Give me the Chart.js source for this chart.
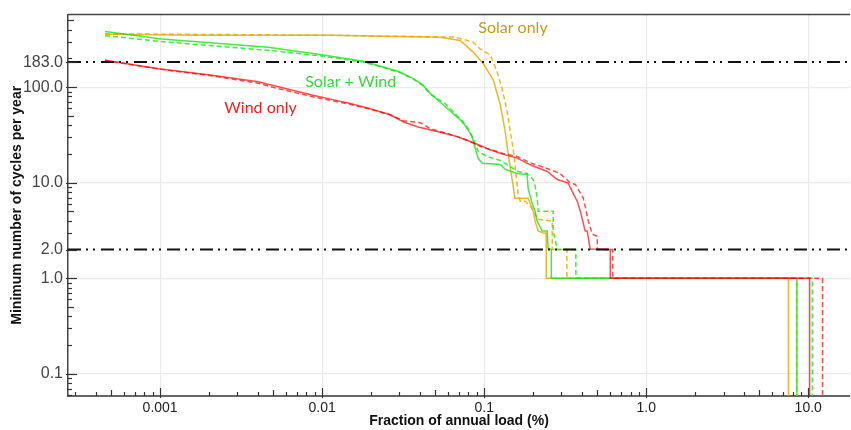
<!DOCTYPE html>
<html><head><meta charset="utf-8">
<script src="https://cdn.jsdelivr.net/npm/chart.js@4"></script>
<style>html,body{margin:0;padding:0;background:#fff}#wrap{width:851px;height:430px;position:relative}</style>
</head><body><div id="wrap"><canvas id="c"></canvas></div>
<script>
// ---- data ----
const solarSolidX = [0.000457, 0.00177, 0.0112, 0.0534, 0.0711, 0.0855, 0.0987, 0.1138, 0.1257, 0.1349, 0.1407, 0.147, 0.155, 0.187, 0.192, 0.2005, 0.2063, 0.2155, 0.231, 0.2415, 0.2415, 7.55, 7.55];
const solarSolidY = [359, 350, 350, 334, 308, 233, 176, 119, 65.5, 34.3, 19.8, 12.2, 6.88, 6.88, 6.1, 5.04, 3.96, 3.12, 2.97, 2.97, 1, 1, 0.05];
const solarDashX = [0.000457, 0.0112, 0.0662, 0.0855, 0.0944, 0.1089, 0.1203, 0.129, 0.1387, 0.1449, 0.151, 0.155, 0.162, 0.1668, 0.179, 0.2004, 0.2123, 0.263, 0.263, 0.324, 0.324, 8.51, 8.51];
const solarDashY = [362, 350, 334, 296, 252, 217, 144, 96, 55.3, 34.3, 22.8, 15.5, 7.57, 6.4, 6.4, 5.29, 4.16, 3.96, 2, 2, 1, 1, 0.05];
const hybridSolidX = [0.000457, 0.00102, 0.00464, 0.00996, 0.0179, 0.0238, 0.0303, 0.0365, 0.042, 0.0464, 0.0558, 0.0644, 0.0732, 0.0786, 0.0843, 0.088, 0.0919, 0.0973, 0.1257, 0.1349, 0.16, 0.184, 0.187, 0.1977, 0.2063, 0.2123, 0.228, 0.245, 0.248, 0.2596, 0.2596, 8.51, 8.51];
const hybridSolidY = [383, 320, 262, 218, 187, 163, 144, 123, 105, 85.8, 65.5, 52.8, 43.5, 36.9, 30.4, 22.8, 17.9, 16.0, 15.5, 13.8, 12.5, 12.2, 8.53, 6.1, 5.04, 3.96, 3.12, 3.12, 2.07, 2, 1, 1, 0.05];
const hybridDashX = [0.000457, 0.00102, 0.00464, 0.00996, 0.0179, 0.0238, 0.0303, 0.0365, 0.042, 0.0464, 0.0574, 0.0741, 0.0796, 0.0855, 0.0919, 0.1045, 0.1257, 0.162, 0.184, 0.2004, 0.2063, 0.2123, 0.2155, 0.2667, 0.2667, 0.2825, 0.368, 0.368, 10.6, 10.6];
const hybridDashY = [346, 300, 243, 212, 183, 161, 142, 122, 103, 85, 67.5, 43.5, 36.9, 29, 21.2, 18.8, 17.1, 13.1, 12.5, 10.8, 9.19, 6.88, 5.04, 5.04, 3.12, 2, 2, 1, 1, 0.05];
const windSolidX = [0.000457, 0.000976, 0.00198, 0.00403, 0.00513, 0.00906, 0.012, 0.0149, 0.0198, 0.0263, 0.0316, 0.0386, 0.0513, 0.0681, 0.082, 0.0944, 0.1089, 0.131, 0.16, 0.192, 0.245, 0.2825, 0.33, 0.349, 0.375, 0.392, 0.42, 0.432, 0.451, 0.6, 0.6, 10.2, 10.2];
const windSolidY = [191, 156, 135, 114, 103, 81.2, 73.2, 67.5, 59.4, 51.5, 43.5, 38.6, 34.3, 30.4, 27, 24.5, 22.1, 19.8, 18.1, 15.4, 13.1, 10.8, 9.93, 8.12, 6.4, 5.04, 3.12, 3.12, 2.02, 2, 1, 1, 0.05];
const windDashX = [0.000457, 0.000976, 0.00198, 0.00403, 0.00513, 0.00906, 0.012, 0.0149, 0.0198, 0.0263, 0.0316, 0.0403, 0.0464, 0.0681, 0.082, 0.0944, 0.1089, 0.131, 0.16, 0.192, 0.245, 0.294, 0.34, 0.365, 0.392, 0.408, 0.42, 0.439, 0.464, 0.499, 0.499, 0.622, 0.622, 12.25, 12.25];
const windDashY = [191, 155, 133, 110, 98.3, 78.3, 71.2, 66.2, 58.7, 51.5, 44.6, 42.5, 36.9, 30.4, 27, 24, 22.3, 20.2, 18.8, 16.2, 14.1, 12.5, 9.93, 9.6, 7.82, 6.94, 5.68, 3.96, 2.9, 2.75, 2, 2, 1, 1, 0.05];

const refLevels = [183, 2];               // dash-dot threshold lines
const xRange = [0.00027, 18.1];
const yRange = [0.0586, 575];
const xTickVals = [0.001, 0.01, 0.1, 1, 10];
const xTickLabels = ['0.001', '0.01', '0.1', '1.0', '10.0'];
const yTickVals = [0.1, 1, 2, 10, 100, 183];
const yTickLabels = ['0.1', '1.0', '2.0', '10.0', '100.0', '183.0'];
const yGridVals = [0.1, 1, 10, 100];
const xGridVals = [0.001, 0.01, 0.1, 1, 10];

const annoText = ['Solar only', 'Solar + Wind', 'Wind only'];
const annoX = [0.0919, 0.00786, 0.00249];
const annoY = [367, 100.7, 53.1];
const annoColor = ['#c99a1a', '#2fdc3a', '#ff1a1a'];

// ---- helpers ----
const ORANGE = 'rgba(240,168,0,0.85)';
const GREEN = 'rgba(20,230,20,0.8)';
const RED = 'rgba(255,0,0,0.7)';
const pts = (xs, ys) => xs.map((v, i) => ({x: v, y: ys[i]}));
function minorTicks(lo, hi) {
  const out = [];
  for (let e = Math.floor(Math.log10(lo)) ; e <= Math.ceil(Math.log10(hi)); e++) {
    for (let s = 1; s <= 9; s++) {
      const v = +(s * Math.pow(10, e)).toPrecision(6);
      if (v >= lo && v <= hi) out.push(v);
    }
  }
  return out;
}
const near = (a, b) => Math.abs(a - b) / b < 1e-6;
function sigOf(v) { const e = Math.floor(Math.log10(v) + 1e-9); return Math.round(v / Math.pow(10, e)); }

const series = (label, xs, ys, color, dashed, order) => ({
  label, data: pts(xs, ys), borderColor: color, borderWidth: 1.5,
  borderDash: dashed ? [5, 3] : [], pointRadius: 0, fill: false, tension: 0, order
});
const refLine = (lvl) => ({
  label: 'ref ' + lvl, data: [{x: xRange[0], y: lvl}, {x: xRange[1], y: lvl}],
  borderColor: '#111', borderWidth: 2, borderDash: [13, 5, 2, 5, 2, 6], pointRadius: 0, order: 0
});

const decor = {
  id: 'decor',
  afterDatasetsDraw(chart) {
    const {ctx, chartArea: a, scales: {x, y}} = chart;
    ctx.save();
    ctx.strokeStyle = '#333'; ctx.lineWidth = 1.2;
    x.ticks.forEach(t => {
      const px = Math.round(x.getPixelForValue(t.value)) + 0.5;
      const s = sigOf(t.value);
      const len = s === 1 ? 8 : (s === 5 ? 6 : 4);
      ctx.beginPath(); ctx.moveTo(px, a.bottom + (s === 1 ? 2 : 0)); ctx.lineTo(px, a.bottom - len); ctx.stroke();
    });
    y.ticks.forEach(t => {
      const py = Math.round(y.getPixelForValue(t.value)) + 0.5;
      const labelled = yTickVals.some(v => near(t.value, v));
      const s = sigOf(t.value);
      const len = labelled ? 9 : (s === 5 ? 6 : 4);
      ctx.beginPath(); ctx.moveTo(a.left - (labelled ? 2 : 0), py); ctx.lineTo(a.left + len, py); ctx.stroke();
    });
    // top frame
    ctx.strokeStyle = '#444'; ctx.lineWidth = 1.5;
    ctx.beginPath(); ctx.moveTo(a.left, a.top); ctx.lineTo(a.right, a.top); ctx.stroke();
    // annotations
    ctx.font = '16px Lato, "Open Sans", sans-serif';
    ctx.textBaseline = 'alphabetic'; ctx.textAlign = 'left';
    annoText.forEach((t, i) => {
      ctx.fillStyle = annoColor[i];
      ctx.fillText(t, x.getPixelForValue(annoX[i]), y.getPixelForValue(annoY[i]));
    });
    ctx.restore();
  }
};

new Chart(document.getElementById('c'), {
  type: 'line',
  data: {
    datasets: [
      refLine(refLevels[0]), refLine(refLevels[1]),
      series('Wind only', windSolidX, windSolidY, RED, false, 1),
      series('Wind only (dashed)', windDashX, windDashY, RED, true, 1),
      series('Solar + Wind', hybridSolidX, hybridSolidY, GREEN, false, 2),
      series('Solar + Wind (dashed)', hybridDashX, hybridDashY, GREEN, true, 2),
      series('Solar only', solarSolidX, solarSolidY, ORANGE, false, 3),
      series('Solar only (dashed)', solarDashX, solarDashY, ORANGE, true, 3)
    ]
  },
  options: {
    responsive: true, maintainAspectRatio: false, animation: false, devicePixelRatio: 1,
    layout: {padding: {top: 12, right: 1, left: 0, bottom: 0}},
    plugins: {legend: {display: false}, tooltip: {enabled: false}},
    scales: {
      x: {
        type: 'logarithmic', min: xRange[0], max: xRange[1],
        afterBuildTicks: s => { s.ticks = minorTicks(xRange[0], xRange[1]).map(v => ({value: v})); },
        afterFit: s => { s.height = 34; },
        ticks: {
          autoSkip: false, maxRotation: 0, padding: 4, color: '#222',
          font: {family: '"Liberation Sans", Arial, sans-serif', size: 14},
          callback: v => { const i = xTickVals.findIndex(t => near(v, t)); return i >= 0 ? xTickLabels[i] : ''; }
        },
        grid: {
          drawTicks: false,
          color: c => (c.tick && xGridVals.some(t => near(c.tick.value, t))) ? '#ebebeb' : 'rgba(0,0,0,0)',
          lineWidth: 1.2
        },
        border: {color: '#666', width: 2},
        title: {display: true, text: 'Fraction of annual load (%)', color: '#111', padding: {top: 0, bottom: 0},
          font: {family: '"Liberation Sans", Arial, sans-serif', size: 14, weight: 'bold'}}
      },
      y: {
        type: 'logarithmic', min: yRange[0], max: yRange[1],
        afterBuildTicks: s => {
          const vals = minorTicks(yRange[0], yRange[1]);
          yTickVals.forEach(v => { if (!vals.some(w => near(w, v))) vals.push(v); });
          vals.sort((a, b) => a - b);
          s.ticks = vals.map(v => ({value: v}));
        },
        afterFit: s => { s.width = 68; },
        ticks: {
          autoSkip: false, padding: 5, color: '#444',
          font: {family: '"Liberation Sans", Arial, sans-serif', size: 16},
          callback: v => { const i = yTickVals.findIndex(t => near(v, t)); return i >= 0 ? yTickLabels[i] : ''; }
        },
        grid: {
          drawTicks: false,
          color: c => (c.tick && yGridVals.some(t => near(c.tick.value, t))) ? '#ebebeb' : 'rgba(0,0,0,0)',
          lineWidth: 1.2
        },
        border: {color: '#444', width: 1.5},
        title: {display: true, text: 'Minimum number of cycles per year', color: '#111', padding: {top: 9, bottom: 0},
          font: {family: '"Liberation Sans", Arial, sans-serif', size: 14, weight: 'bold'}}
      }
    }
  },
  plugins: [decor]
});
</script>
</body></html>
